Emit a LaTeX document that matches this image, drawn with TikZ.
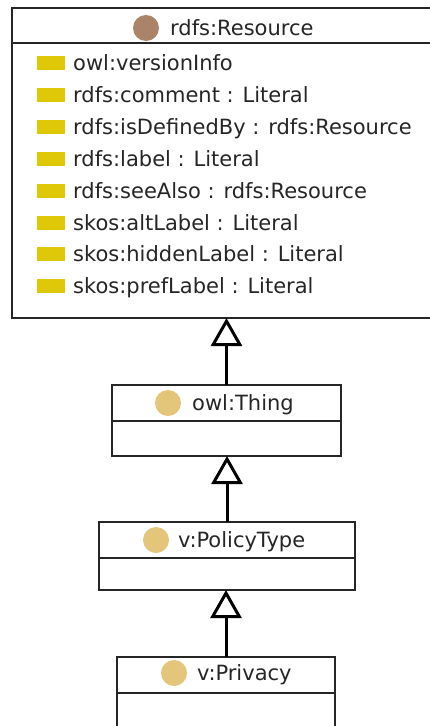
\documentclass[tikz,border=0pt]{standalone}
\usepackage{fontspec}
\setmainfont{DejaVu Sans}
\usepackage{xcolor}
\usetikzlibrary{positioning,arrows.meta}

\definecolor{resbrown}{RGB}{170,132,104}
\definecolor{attryellow}{RGB}{222,200,8}
\definecolor{classtan}{RGB}{228,198,122}

\begin{document}
\begin{tikzpicture}[x=1pt, y=-1pt, font=\fontsize{21}{24}\selectfont,
	box/.style={draw=black!85, line width=1.6pt, outer sep=0pt, inner sep=0pt},
	dot/.style={circle, inner sep=0pt, minimum size=26pt},
	attr/.style={fill=attryellow, minimum width=28pt, minimum height=14pt, inner sep=0pt},
	lbl/.style={anchor=base west, inner sep=0pt, text=black!85},
	isa/.style={-{Triangle[open, length=28pt, width=31pt]}, line width=3pt}]
	\useasboundingbox[fill=white] (0,0) rectangle (430,726);

	% rdfs:Resource
	\node[box, minimum width=420pt, minimum height=35pt] (res) at (222,25.5) {};
	\node[box, minimum width=420pt, minimum height=275pt, below=0pt of res] (resbody) {};
	\node[lbl] (restitle) at (170,35.5) {rdfs:Resource};
	\node[dot, fill=resbrown] (resdot) at (146,28) {};
	\foreach \t [count=\i] in {owl:versionInfo, rdfs:comment : Literal,
		rdfs:isDefinedBy : rdfs:Resource, rdfs:label : Literal,
		rdfs:seeAlso : rdfs:Resource, skos:altLabel : Literal,
		skos:hiddenLabel : Literal, skos:prefLabel : Literal}
	{
		\node[attr] (attr\i) at (51,{63+31.9*(\i-1)}) {};
		\node[lbl] (attrlbl\i) at (73,{70.5+31.9*(\i-1)}) {\t};
	}

	% owl:Thing
	\node[box, minimum width=229pt, minimum height=36pt] (thing) at (226.5,403) {};
	\node[box, minimum width=229pt, minimum height=35pt, below=0pt of thing] (thingbody) {};
	\node[lbl] (thingtitle) at (192,410.5) {owl:Thing};
	\node[dot, fill=classtan] (thingdot) at (168,403) {};

	% v:PolicyType
	\node[box, minimum width=256pt, minimum height=36pt] (policy) at (227,540) {};
	\node[box, minimum width=256pt, minimum height=32pt, below=0pt of policy] (policybody) {};
	\node[lbl] (policytitle) at (178,547.5) {v:PolicyType};
	\node[dot, fill=classtan] (policydot) at (156,540) {};

	% v:Privacy
	\node[box, minimum width=218pt, minimum height=36pt] (privacy) at (226,675) {};
	\node[box, minimum width=218pt, minimum height=40pt, below=0pt of privacy] (privacybody) {};
	\node[lbl] (privacytitle) at (197,680.5) {v:Privacy};
	\node[dot, fill=classtan] (privacydot) at (174,673) {};

	\path[isa]
	(thing.north) edge (thing.north |- resbody.south)
	(policy.north) edge (policy.north |- thingbody.south)
	(privacy.north) edge (privacy.north |- policybody.south);
\end{tikzpicture}
\end{document}
